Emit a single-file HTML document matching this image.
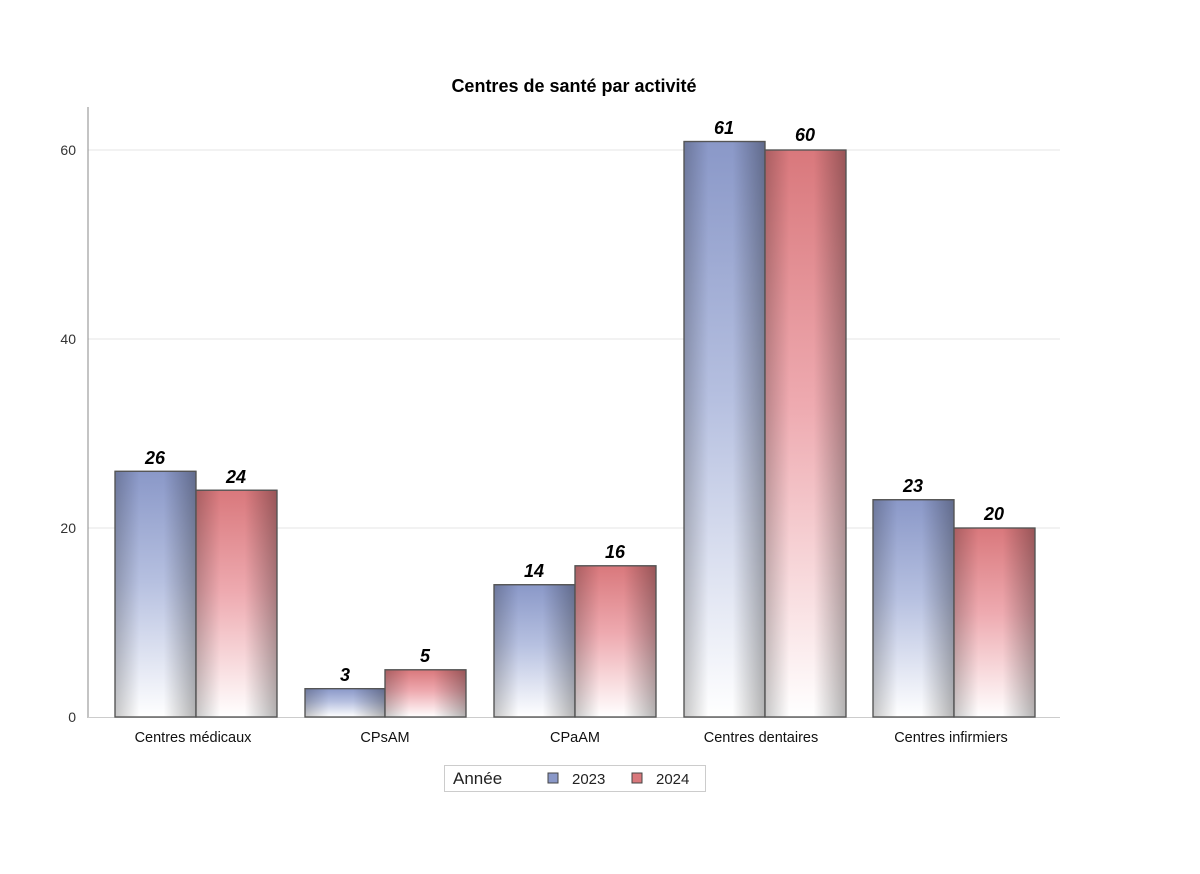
<!DOCTYPE html>
<html><head><meta charset="utf-8"><style>body{margin:0;background:#fff}svg{display:block}text{font-family:"Liberation Sans",sans-serif}</style></head><body>
<svg width="1200" height="874" viewBox="0 0 1200 874">
<defs>
<linearGradient id="b" x1="0" y1="0" x2="0" y2="1"><stop offset="0" stop-color="#8a98c8"/><stop offset="0.45" stop-color="#b6c0e0"/><stop offset="1" stop-color="#ffffff"/></linearGradient>
<linearGradient id="r" x1="0" y1="0" x2="0" y2="1"><stop offset="0" stop-color="#d9787c"/><stop offset="0.45" stop-color="#eeaab0"/><stop offset="1" stop-color="#ffffff"/></linearGradient>
<linearGradient id="h" x1="0" y1="0" x2="1" y2="0"><stop offset="0" stop-color="#000" stop-opacity="0.22"/><stop offset="0.3" stop-color="#000" stop-opacity="0"/><stop offset="0.6" stop-color="#000" stop-opacity="0"/><stop offset="1" stop-color="#000" stop-opacity="0.3"/></linearGradient>
</defs>
<text x="574" y="92" font-size="18" font-weight="bold" text-anchor="middle">Centres de santé par activité</text>
<g stroke="#e4e4e4" stroke-width="1">
<line x1="88" y1="150" x2="1060" y2="150"/><line x1="88" y1="339" x2="1060" y2="339"/><line x1="88" y1="528" x2="1060" y2="528"/>
</g>
<line x1="88" y1="107" x2="88" y2="718" stroke="#888"/>
<line x1="88" y1="717.5" x2="1060" y2="717.5" stroke="#ccc"/>
<g font-size="14" fill="#333" text-anchor="end">
<text x="76" y="155">60</text><text x="76" y="344">40</text><text x="76" y="533">20</text><text x="76" y="722">0</text>
</g>
<g stroke="#555" stroke-width="1.2">
<rect x="115" y="471.3" width="81" height="245.7" fill="url(#b)"/><rect x="115" y="471.3" width="81" height="245.7" fill="url(#h)"/>
<rect x="196" y="490.2" width="81" height="226.8" fill="url(#r)"/><rect x="196" y="490.2" width="81" height="226.8" fill="url(#h)"/>
<rect x="305" y="688.6" width="80" height="28.4" fill="url(#b)"/><rect x="305" y="688.6" width="80" height="28.4" fill="url(#h)"/>
<rect x="385" y="669.8" width="81" height="47.2" fill="url(#r)"/><rect x="385" y="669.8" width="81" height="47.2" fill="url(#h)"/>
<rect x="494" y="584.7" width="81" height="132.3" fill="url(#b)"/><rect x="494" y="584.7" width="81" height="132.3" fill="url(#h)"/>
<rect x="575" y="565.8" width="81" height="151.2" fill="url(#r)"/><rect x="575" y="565.8" width="81" height="151.2" fill="url(#h)"/>
<rect x="684" y="141.5" width="81" height="575.5" fill="url(#b)"/><rect x="684" y="141.5" width="81" height="575.5" fill="url(#h)"/>
<rect x="765" y="150" width="81" height="567" fill="url(#r)"/><rect x="765" y="150" width="81" height="567" fill="url(#h)"/>
<rect x="873" y="499.7" width="81" height="217.3" fill="url(#b)"/><rect x="873" y="499.7" width="81" height="217.3" fill="url(#h)"/>
<rect x="954" y="528" width="81" height="189" fill="url(#r)"/><rect x="954" y="528" width="81" height="189" fill="url(#h)"/>
</g>
<g font-size="18" font-weight="bold" font-style="italic" text-anchor="middle">
<text x="155" y="464">26</text><text x="236" y="483">24</text>
<text x="345" y="681">3</text><text x="425" y="662">5</text>
<text x="534" y="577">14</text><text x="615" y="558">16</text>
<text x="724" y="134">61</text><text x="805" y="141">60</text>
<text x="913" y="492">23</text><text x="994" y="520">20</text>
</g>
<g font-size="14.5" fill="#111" text-anchor="middle">
<text x="193" y="742">Centres médicaux</text><text x="385" y="742">CPsAM</text><text x="575" y="742">CPaAM</text><text x="761" y="742">Centres dentaires</text><text x="951" y="742">Centres infirmiers</text>
</g>
<rect x="444.5" y="765.5" width="261" height="26" fill="#fff" stroke="#ccc"/>
<text x="453" y="784" font-size="17" fill="#222">Année</text>
<rect x="548" y="773" width="10" height="10" fill="#8a98c8" stroke="#444"/>
<text x="572" y="784" font-size="15" fill="#222">2023</text>
<rect x="632" y="773" width="10" height="10" fill="#d9787c" stroke="#444"/>
<text x="656" y="784" font-size="15" fill="#222">2024</text>
</svg>
</body></html>
